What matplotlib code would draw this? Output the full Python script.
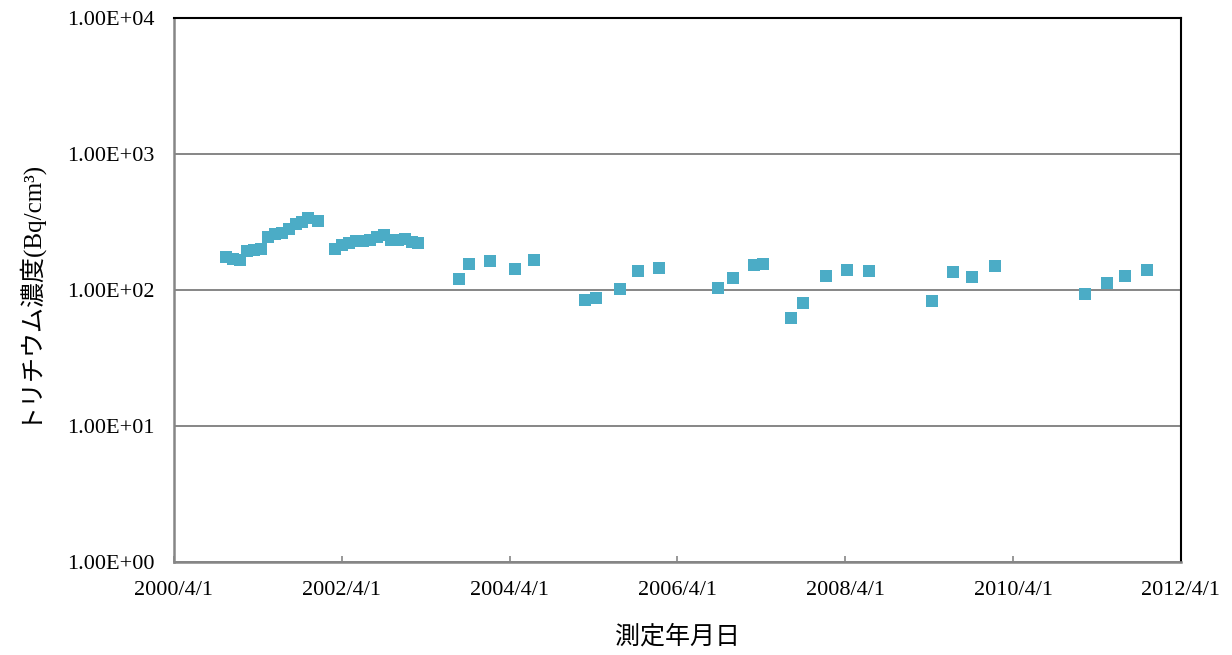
import numpy as np
import pandas as pd
import matplotlib
matplotlib.use("Agg")
import matplotlib.pyplot as plt
import matplotlib.ticker as mticker

dates = [
    "2000-11-15", "2000-12-15", "2001-01-15", "2001-02-15", "2001-03-15",
    "2001-04-15", "2001-05-15", "2001-06-15", "2001-07-15", "2001-08-15",
    "2001-09-15", "2001-10-10", "2001-11-05", "2001-12-20",
    "2002-03-01", "2002-04-01", "2002-05-01", "2002-06-01", "2002-07-01",
    "2002-08-01", "2002-09-01", "2002-10-01", "2002-11-01", "2002-12-01",
    "2003-01-01", "2003-02-01", "2003-03-01",
    "2003-08-24", "2003-10-05", "2004-01-05", "2004-04-23", "2004-07-15",
    "2005-02-22", "2005-04-10", "2005-07-25", "2005-10-10", "2006-01-10",
    "2006-09-25", "2006-12-01", "2007-03-01", "2007-04-10", "2007-08-10",
    "2007-09-28", "2008-01-07", "2008-04-07", "2008-07-13", "2009-04-13",
    "2009-07-13", "2009-10-04", "2010-01-13", "2011-02-08", "2011-05-15",
    "2011-08-01", "2011-11-05",
]
tritium = [
    175, 170, 166, 194, 197,
    200, 245, 258, 262, 281,
    306, 316, 338, 322,
    200, 214, 222, 229, 229,
    233, 245, 254, 233, 233,
    237, 225, 222,
    120, 155, 163, 143, 166,
    84, 87, 102, 138, 145,
    103, 122, 153, 155, 62,
    80, 127, 140, 138, 83,
    136, 125, 150, 93, 113,
    127, 140,
]

x_ticks = ["2000-04-01", "2002-04-01", "2004-04-01", "2006-04-01",
           "2008-04-01", "2010-04-01", "2012-04-01"]
x_tick_labels = ["2000/4/1", "2002/4/1", "2004/4/1", "2006/4/1",
                 "2008/4/1", "2010/4/1", "2012/4/1"]
y_ticks = [1, 10, 100, 1000, 10000]
y_tick_labels = ["1.00E+00", "1.00E+01", "1.00E+02", "1.00E+03", "1.00E+04"]

serif = ["Liberation Serif", "Noto Sans CJK JP"]
plt.rcParams["font.family"] = serif

fig = plt.figure(figsize=(12.32, 6.55), dpi=100)
ax = fig.add_axes([0.1412, 0.142, 0.8174, 0.8305])

ax.plot(pd.to_datetime(dates), tritium, linestyle="none", marker="s",
        markersize=8.6, color="#4BACC6", markeredgewidth=0)

ax.set_yscale("log")
ax.set_ylim(1, 10000)
ax.set_xlim(pd.Timestamp(x_ticks[0]), pd.Timestamp(x_ticks[-1]))

ax.yaxis.set_major_locator(mticker.FixedLocator(y_ticks))
ax.yaxis.set_major_formatter(mticker.FixedFormatter(y_tick_labels))
ax.yaxis.set_minor_locator(mticker.NullLocator())
ax.set_xticks(pd.to_datetime(x_ticks))
ax.set_xticklabels(x_tick_labels)
ax.xaxis.set_minor_locator(mticker.NullLocator())

ax.tick_params(axis="y", length=0, pad=14, labelsize=16)
ax.tick_params(axis="x", direction="in", length=4, width=1.2,
               color="#868686", pad=14, labelsize=16)

ax.grid(axis="y", color="#868686", linewidth=1.4)
ax.set_axisbelow(True)

for side in ["left", "bottom"]:
    ax.spines[side].set_color("#868686")
    ax.spines[side].set_linewidth(1.8)
for side in ["top", "right"]:
    ax.spines[side].set_color("black")
    ax.spines[side].set_linewidth(1.5)

ax.set_ylabel("トリチウム濃度(Bq/cm³)", fontsize=18, labelpad=20)
ax.set_xlabel("測定年月日", fontsize=18, labelpad=18)

fig.savefig("out.png", dpi=100)
